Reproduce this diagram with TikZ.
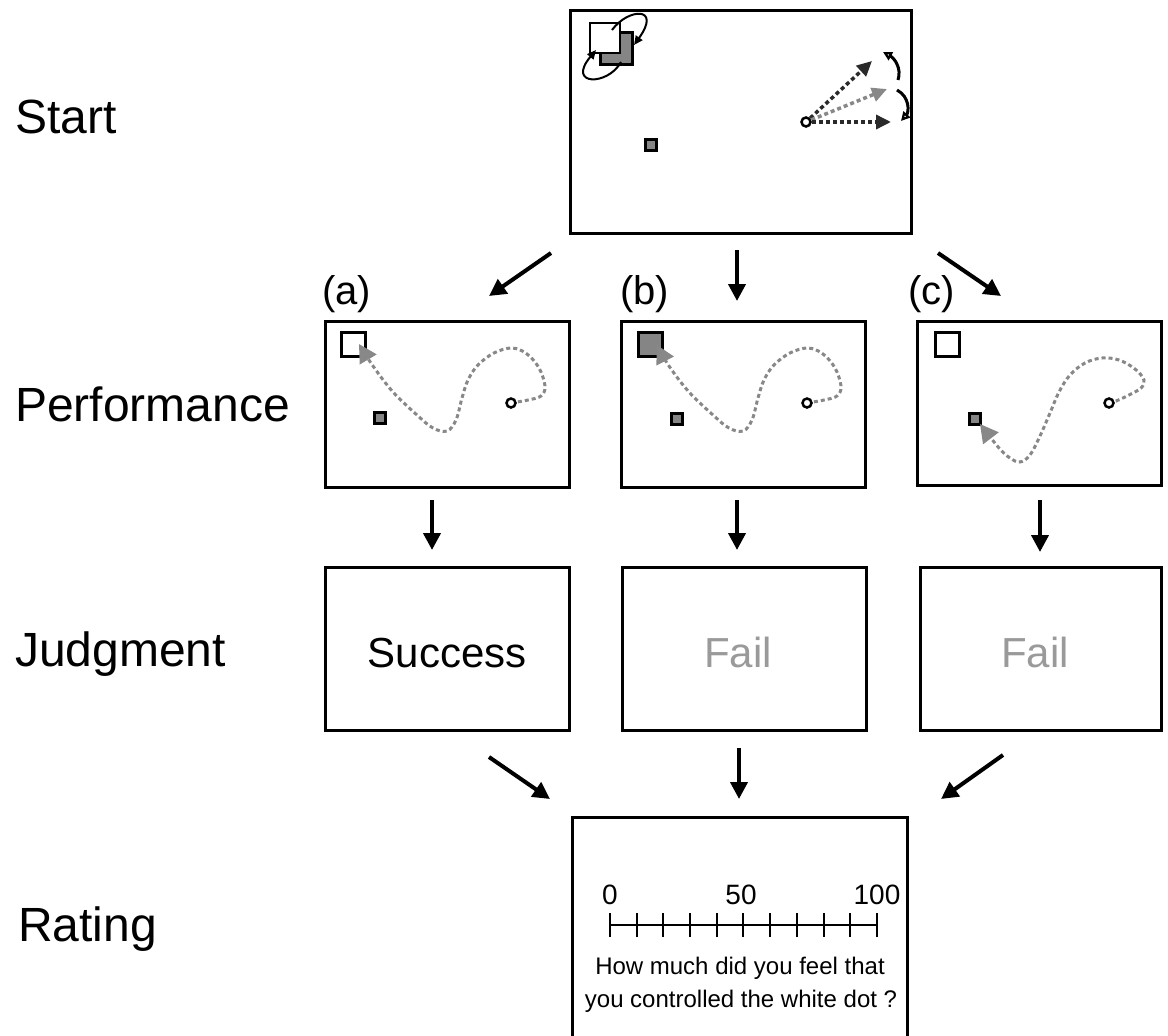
\documentclass[tikz,border=0pt]{standalone}
\usepackage{fontspec}
\setmainfont{Liberation Sans}
\usetikzlibrary{arrows.meta}
\definecolor{midgray}{HTML}{858585}
\definecolor{pathgray}{HTML}{888888}
\definecolor{failgray}{HTML}{9A9A9A}
\definecolor{darkline}{HTML}{2A2A2A}
\begin{document}
\begin{tikzpicture}[x=1pt,y=-1pt,
  frame/.style={draw, line width=3pt, fill=white, inner sep=0pt},
  rowlabel/.style={font=\fontsize{48}{52}\selectfont, inner sep=0pt, anchor=base west},
  caselabel/.style={font=\fontsize{40}{44}\selectfont, inner sep=0pt, anchor=base west},
  judgetext/.style={font=\fontsize{42}{46}\selectfont, inner sep=0pt, anchor=base},
  flow/.style={line width=4pt, -{Triangle[length=17pt,width=17pt]}},
  smallsq/.style={draw, line width=2.5pt, fill=midgray, minimum size=11pt, inner sep=0pt},
  targetsq/.style={draw, line width=2.8pt, minimum size=24pt, inner sep=0pt},
  dotcirc/.style={circle, draw, line width=2.5pt, fill=white, minimum size=9pt, inner sep=0pt},
  gpath/.style={pathgray, line width=3pt, dash pattern=on 4pt off 3pt,
    -{Triangle[length=18pt,width=19pt,fill=pathgray]}},
  aimdark/.style={darkline, line width=3.5pt, dash pattern=on 4pt off 3pt,
    -{Triangle[length=15pt,width=14pt]}},
  aimgray/.style={pathgray, line width=3.5pt, dash pattern=on 4pt off 3pt,
    -{Triangle[length=15pt,width=14pt]}},
  turn/.style={line width=3pt, -{Triangle[open,length=9pt,width=9pt]}},
  rot/.style={line width=2pt, -{Triangle[length=9pt,width=8pt]}},
  qtext/.style={font=\fontsize{24}{28}\selectfont, inner sep=0pt, anchor=base},
  numtext/.style={font=\fontsize{28}{32}\selectfont, inner sep=0pt, anchor=base}
]
\useasboundingbox (0,0) rectangle (1168,1036);

% ---------- row labels ----------
\node[rowlabel] (lstart) at (15,133) {Start};
\node[rowlabel] (lperf) at (15,421) {Performance};
\node[rowlabel] (ljudge) at (15,666) {Judgment};
\node[rowlabel] (lrate) at (18,941) {Rating};

\node[caselabel] (ca) at (322,304) {(a)};
\node[caselabel] (cb) at (620,304) {(b)};
\node[caselabel] (cc) at (908,304) {(c)};

% ---------- start box ----------
\node[frame, minimum width=341pt, minimum height=223pt] (start) at (740.5,121.5) {};
% rotating squares icon
\node[smallsq, line width=3pt, minimum size=32pt] (sg) at (616.5,48.5) {};
\node[targetsq, fill=white, minimum size=30pt] (sw) at (605,38) {};
\draw[rot] (612,30) .. controls (628,8) and (662,6) .. (634,45);
\draw[rot] (621,62) .. controls (608,86) and (566,86) .. (596,50);
\node[smallsq] (s0) at (651,145) {};
% aiming arrows
\node[dotcirc] (c0) at (806,122) {};
\coordinate (t1) at (872,61);
\coordinate (t2) at (887,89);
\coordinate (t3) at (891,122);
\draw[aimdark] (c0) -- (t1);
\draw[aimgray] (c0) -- (t2);
\draw[aimdark] (c0) -- (t3);
\coordinate (r1s) at (898,80);
\coordinate (r1e) at (883,52);
\coordinate (r2s) at (897,90);
\coordinate (r2e) at (901,121);
\draw[turn] (r1s) .. controls (902,68) and (894,58) .. (r1e);
\draw[turn] (r2s) .. controls (910,97) and (909,112) .. (r2e);

% ---------- performance boxes ----------
\node[frame, minimum width=244pt, minimum height=166pt] (pa) at (447,404) {};
\node[frame, minimum width=244pt, minimum height=166pt] (pb) at (743,404) {};
\node[frame, minimum width=244pt, minimum height=164pt] (pc) at (1039,403) {};

% (a)
\node[targetsq] (ta) at (353.5,344.5) {};
\node[smallsq] (sa) at (380,418) {};
\draw[gpath] plot[smooth, tension=0.6] coordinates {(511,403) (528,400) (541,396) (545,386) (539,368) (527,354) (512,348) (494,353) (478,365) (468,380) (462,398) (456,420) (447,431) (433,428) (417,415) (393,392) (373,366) (359,344)};
\node[dotcirc] (da) at (511,403) {};

% (b)
\node[targetsq, fill=midgray] (tb) at (650.5,344.5) {};
\node[smallsq] (sb) at (677,419) {};
\begin{scope}[xshift=296pt]
\draw[gpath] plot[smooth, tension=0.6] coordinates {(511,403) (528,400) (541,396) (545,386) (539,368) (527,354) (512,348) (494,353) (478,365) (468,380) (462,398) (456,420) (447,431) (433,428) (417,415) (393,392) (373,366) (361,345)};
\end{scope}
\node[dotcirc] (db) at (807,403) {};

% (c)
\node[targetsq] (tc) at (947.5,344.5) {};
\node[smallsq] (sc) at (975,419) {};
\draw[gpath] plot[smooth, tension=0.6] coordinates {(1109,403) (1116,401) (1129,395) (1141,388) (1144,380) (1135,369) (1119,360) (1102,358) (1085,363) (1070,375) (1059,392) (1050,413) (1040,436) (1030,455) (1020,462) (1010,458) (999,448) (980,424)};
\node[dotcirc] (dc) at (1109,403) {};

% ---------- judgment boxes ----------
\node[frame, minimum width=244pt, minimum height=163pt] (ja) at (447,648.5) {};
\node[frame, minimum width=244pt, minimum height=163pt] (jb) at (744,648.5) {};
\node[frame, minimum width=241pt, minimum height=163pt] (jc) at (1040.5,648.5) {};
\node[judgetext] (jat) at (447,667) {Success};
\node[judgetext, text=failgray] (jbt) at (738,667) {Fail};
\node[judgetext, text=failgray] (jct) at (1035,667) {Fail};

% ---------- rating box ----------
\node[minimum width=334pt, minimum height=222pt, inner sep=0pt] (rating) at (740,929) {};
\draw[line width=3pt] (rating.south west) |- (rating.north east) -- (rating.south east);
\draw[line width=2.5pt] (610,925) -- (877,925);
\foreach \i in {0,...,10} {
  \draw[line width=2.5pt] ({610+round(26.7*\i)},913) -- ++(0,24);
}
\node[numtext] (n0) at (610,904) {0};
\node[numtext] (n50) at (741,904) {50};
\node[numtext] (n100) at (877,904) {100};
\node[qtext] (q1) at (740,974) {How much did you feel that};
\node[qtext] (q2) at (741,1007) {you controlled the white dot ?};

% ---------- flow arrows ----------
\coordinate (a1s) at (551,253); \coordinate (a1e) at (489,296);
\coordinate (a2s) at (737,250); \coordinate (a2e) at (737,301);
\coordinate (a3s) at (938,253); \coordinate (a3e) at (1001,296);
\draw[flow] (a1s) -- (a1e);
\draw[flow] (a2s) -- (a2e);
\draw[flow] (a3s) -- (a3e);

\coordinate (b1s) at (432,500); \coordinate (b1e) at (432,550);
\coordinate (b2s) at (737,500); \coordinate (b2e) at (737,550);
\coordinate (b3s) at (1040,500); \coordinate (b3e) at (1040,552);
\draw[flow] (b1s) -- (b1e);
\draw[flow] (b2s) -- (b2e);
\draw[flow] (b3s) -- (b3e);

\coordinate (e1s) at (489,757); \coordinate (e1e) at (550,799);
\coordinate (e2s) at (739,748); \coordinate (e2e) at (739,799);
\coordinate (e3s) at (1003,755); \coordinate (e3e) at (941,799);
\draw[flow] (e1s) -- (e1e);
\draw[flow] (e2s) -- (e2e);
\draw[flow] (e3s) -- (e3e);
\end{tikzpicture}
\end{document}
